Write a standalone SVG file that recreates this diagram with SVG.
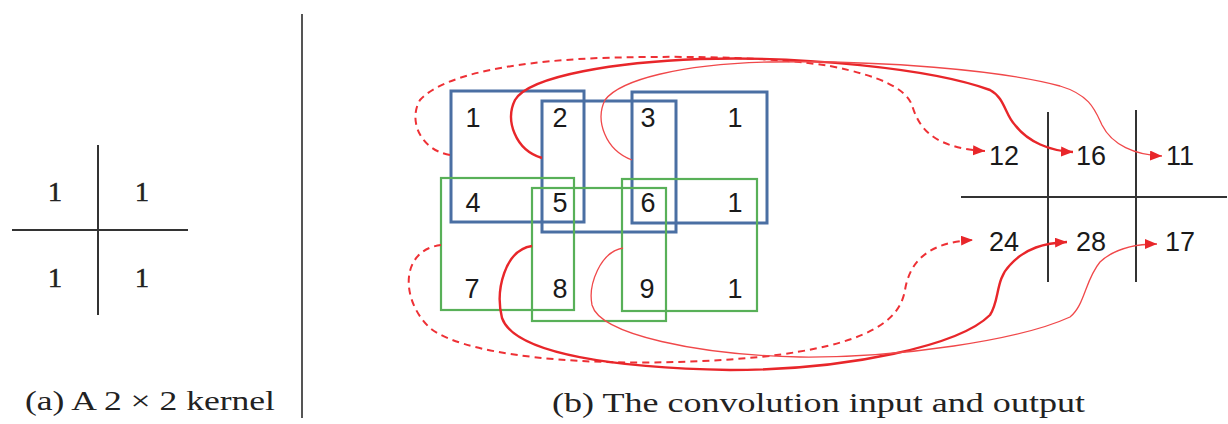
<svg xmlns="http://www.w3.org/2000/svg" width="1228" height="424" viewBox="0 0 1228 424">
<style>
.num{font-family:"Liberation Sans",Arial,sans-serif;font-size:27px;fill:#1a1a1a;text-anchor:middle}
.knum{font-family:"Liberation Serif","Times New Roman",serif;font-size:28px;fill:#222;stroke:#222;stroke-width:0.6;text-anchor:middle}
.cap{font-family:"Liberation Serif","Times New Roman",serif;font-size:27px;fill:#222}
.grid{stroke:#333;stroke-width:2;fill:none}
.blue{fill:none;stroke:#4a6fa3;stroke-width:3}
.green{fill:none;stroke:#58b058;stroke-width:2.2}
.thick{fill:none;stroke:#e8262a;stroke-width:2.4}
.thin{fill:none;stroke:#f0484a;stroke-width:1.3}
.dash{fill:none;stroke:#ee3035;stroke-width:2;stroke-dasharray:7 5}
</style>
<defs>
<marker id="ah" markerUnits="userSpaceOnUse" markerWidth="14" markerHeight="12" refX="12" refY="5" orient="auto">
<path d="M0,0 L12,5 L0,10 Z" fill="#e8262a"/>
</marker>
</defs>
<line x1="302" y1="14" x2="302" y2="418" stroke="#555" stroke-width="2"/>
<g id="kernel">
<line class="grid" x1="98" y1="145" x2="98" y2="315"/>
<line class="grid" x1="12" y1="230" x2="188" y2="230"/>
<text class="knum" x="55" y="201">1</text>
<text class="knum" x="142" y="201">1</text>
<text class="knum" x="55" y="287">1</text>
<text class="knum" x="142" y="287">1</text>
</g>
<text class="cap" x="25" y="410" textLength="250" lengthAdjust="spacingAndGlyphs">(a) A 2 × 2 kernel</text>
<g id="input">
<rect class="blue" x="451" y="91" width="133" height="131"/>
<rect class="blue" x="542" y="101" width="134" height="131"/>
<rect class="blue" x="632" y="92" width="135" height="131"/>
<rect class="green" x="441" y="178" width="133" height="132"/>
<rect class="green" x="532" y="188" width="134" height="133"/>
<rect class="green" x="622" y="179" width="135" height="132"/>
<text class="num" x="473" y="127">1</text>
<text class="num" x="560" y="127">2</text>
<text class="num" x="648" y="127">3</text>
<text class="num" x="735" y="127">1</text>
<text class="num" x="473" y="212">4</text>
<text class="num" x="560" y="212">5</text>
<text class="num" x="648" y="212">6</text>
<text class="num" x="735" y="212">1</text>
<text class="num" x="472" y="298">7</text>
<text class="num" x="560" y="298">8</text>
<text class="num" x="647" y="298">9</text>
<text class="num" x="735" y="298">1</text>
</g>
<g id="output">
<line class="grid" x1="1048" y1="112" x2="1048" y2="282" stroke-width="1.6"/>
<line class="grid" x1="1136" y1="110" x2="1136" y2="282" stroke-width="1.6"/>
<line class="grid" x1="961" y1="197" x2="1227" y2="197" stroke-width="1.6"/>
<text class="num" x="1004" y="165">12</text>
<text class="num" x="1091" y="165">16</text>
<text class="num" x="1180" y="165">11</text>
<text class="num" x="1004" y="251">24</text>
<text class="num" x="1091" y="251">28</text>
<text class="num" x="1180" y="251">17</text>
</g>
<g id="connectors">
<path class="dash" marker-end="url(#ah)" d="M450,155 C420,150 408,120 420,100 C440,78 500,62 600,58 C700,55 780,58 830,66 C880,76 905,88 912,105 C918,125 930,148 985,151"/>
<path class="thick" marker-end="url(#ah)" d="M542,158 C515,150 505,120 515,100 C530,75 620,62 700,59 C800,56 930,68 990,90 C1005,98 1005,115 1015,125 C1028,142 1050,151 1073,152"/>
<path class="thin" marker-end="url(#ah)" d="M632,160 C605,150 595,120 605,100 C620,80 680,64 770,62 C880,60 1000,70 1060,86 C1090,95 1095,110 1102,125 C1112,145 1135,155 1162,156"/>
<path class="dash" marker-end="url(#ah)" d="M441,245 C400,250 400,300 430,328 C470,360 620,370 760,357 C870,345 900,320 905,290 C910,260 930,242 973,240"/>
<path class="thick" marker-end="url(#ah)" d="M532,246 C505,250 495,290 502,318 C515,355 620,368 730,370 C850,370 960,345 990,315 C1000,300 995,280 1010,265 C1025,248 1045,243 1067,242"/>
<path class="thin" marker-end="url(#ah)" d="M623,248 C600,252 588,285 592,305 C600,335 700,355 800,357 C900,358 1020,340 1070,317 C1085,305 1085,280 1100,262 C1115,248 1135,244 1157,244"/>
</g>
<text class="cap" x="552" y="412" textLength="533" lengthAdjust="spacingAndGlyphs">(b) The convolution input and output</text>
</svg>
